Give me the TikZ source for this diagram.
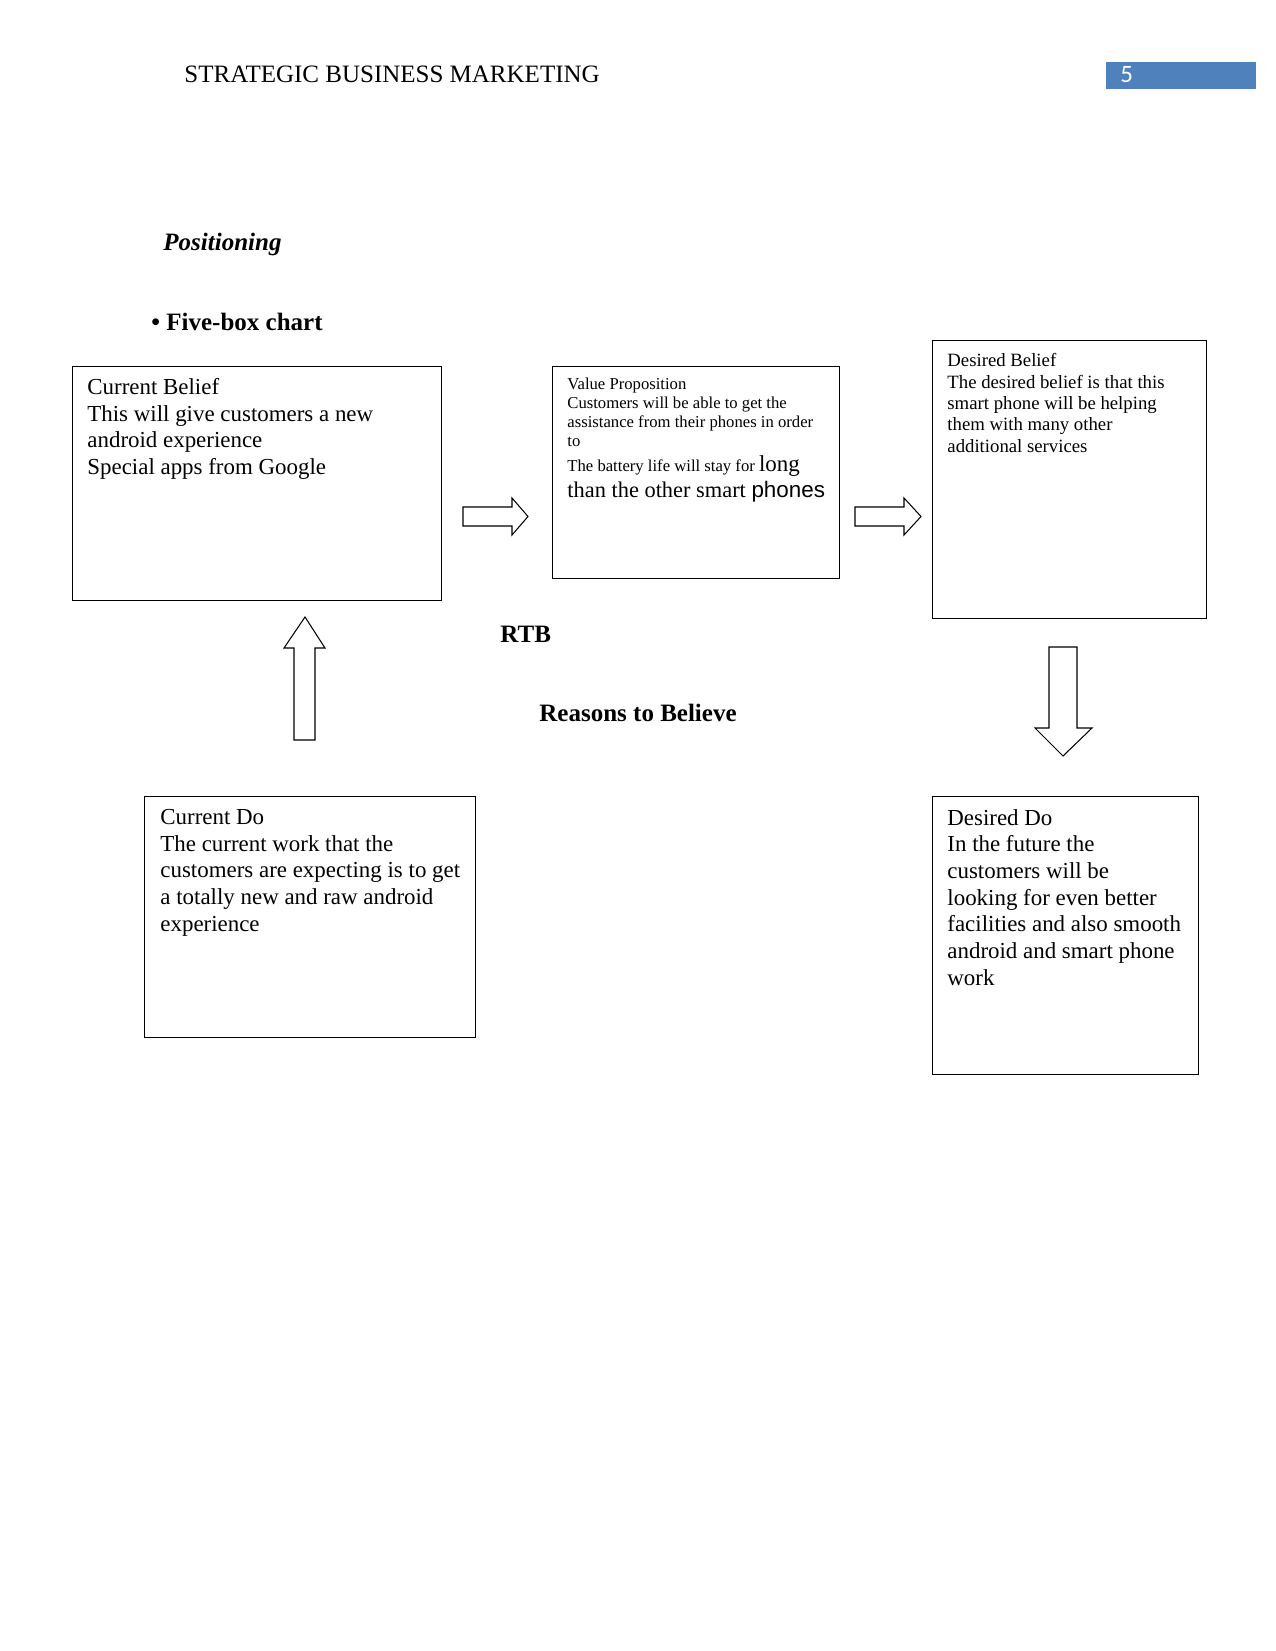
\documentclass[tikz,border=0pt]{standalone}
\usepackage{fontspec}
\setmainfont{Liberation Serif}
\newfontfamily\hdrsans{Carlito}
\newfontfamily\bodysans{Liberation Sans}
\usetikzlibrary{calc}
\definecolor{pagebar}{RGB}{79,129,189}

\begin{document}
\begin{tikzpicture}[x=0.48pt, y=-0.48pt,
        box/.style={draw, line width=0.6pt, anchor=north west, inner sep=0},
        boxtext/.style={anchor=north west, inner sep=0, align=left},
        bigtext/.style={font=\fontsize{11}{12.8}\selectfont},
        barrow/.style={draw, line width=0.5pt, fill=white}
    ]
    \useasboundingbox (0,0) rectangle (1275,1651);
    % Kopfzeile
    \node[anchor=base west, inner sep=0, font=\fontsize{12}{14}\selectfont] (hdr) at (184,83) {STRATEGIC BUSINESS MARKETING};
    \node[box, draw=none, fill=pagebar, minimum width=72pt, minimum height=13pt] (pg) at (1105,61) {};
    \node[anchor=base west, inner sep=0, text=white, font=\hdrsans\fontsize{12}{14}\selectfont] (pgnum) at (1120,83) {5};
    % Titel
    \node[anchor=base west, inner sep=0, font=\fontsize{12}{14}\selectfont\bfseries\itshape] (pos) at (163,251) {Positioning};
    \node[anchor=base west, inner sep=0, font=\fontsize{12}{14}\selectfont\bfseries] (fbc) at (151,330) {\textbullet\ Five-box chart};
    % Kaesten
    \node[box, minimum width=177.1pt, minimum height=112.3pt] (cb) at (72,366) {};
    \node[box, minimum width=137.8pt, minimum height=101.8pt] (vp) at (552,366) {};
    \node[box, minimum width=131.5pt, minimum height=133.4pt] (db) at (932,340) {};
    \node[box, minimum width=158.9pt, minimum height=115.7pt] (cd) at (144,796) {};
    \node[box, minimum width=127.7pt, minimum height=133.4pt] (dd) at (932,796) {};
    % Texte
    \node[boxtext, bigtext] (cbtext) at ($(cb.north west)+(15,12)$) {Current Belief\\This will give customers a new\\android experience\\Special apps from Google};
    \node[boxtext, font=\fontsize{8}{9.1}\selectfont] (vptext) at ($(vp.north west)+(15,12)$) {Value Proposition\\Customers will be able to get the\\assistance from their phones in order\\to\\[2.6pt]The battery life will stay for {\fontsize{11}{12}\selectfont long}\\[1.5pt]{\fontsize{10.75}{12}\selectfont than the other smart \bodysans phones}};
    \node[boxtext, font=\fontsize{9}{10.3}\selectfont] (dbtext) at ($(db.north west)+(15,13)$) {Desired Belief\\The desired belief is that this\\smart phone will be helping\\them with many other\\additional services};
    \node[boxtext, bigtext] (cdtext) at ($(cd.north west)+(16,13)$) {Current Do\\The current work that the\\customers are expecting is to get\\a totally new and raw android\\experience};
    \node[boxtext, bigtext] (ddtext) at ($(dd.north west)+(15,13)$) {Desired Do\\In the future the\\customers will be\\looking for even better\\facilities and also smooth\\android and smart phone\\work};
    % RTB
    \node[anchor=base west, inner sep=0, font=\fontsize{12}{14}\selectfont\bfseries] (rtb) at (500,642) {RTB};
    \node[anchor=base west, inner sep=0, font=\fontsize{12}{14}\selectfont\bfseries] (rtbl) at (539,721) {Reasons to Believe};
    % Blockpfeile
    \draw[barrow] (463,507) -- (512,507) -- (512,498) -- (528,516.5) -- (512,535) -- (512,526) -- (463,526) -- cycle;
    \draw[barrow] (855,507) -- (904,507) -- (904,498) -- (921,516.5) -- (904,535) -- (904,526) -- (855,526) -- cycle;
    \draw[barrow] (294,740) -- (294,648) -- (284,648) -- (305,617) -- (325,648) -- (315,648) -- (315,740) -- cycle;
    \draw[barrow] (1049,647) -- (1077,647) -- (1077,728) -- (1092,728) -- (1063,756) -- (1035,728) -- (1049,728) -- cycle;
\end{tikzpicture}
\end{document}
